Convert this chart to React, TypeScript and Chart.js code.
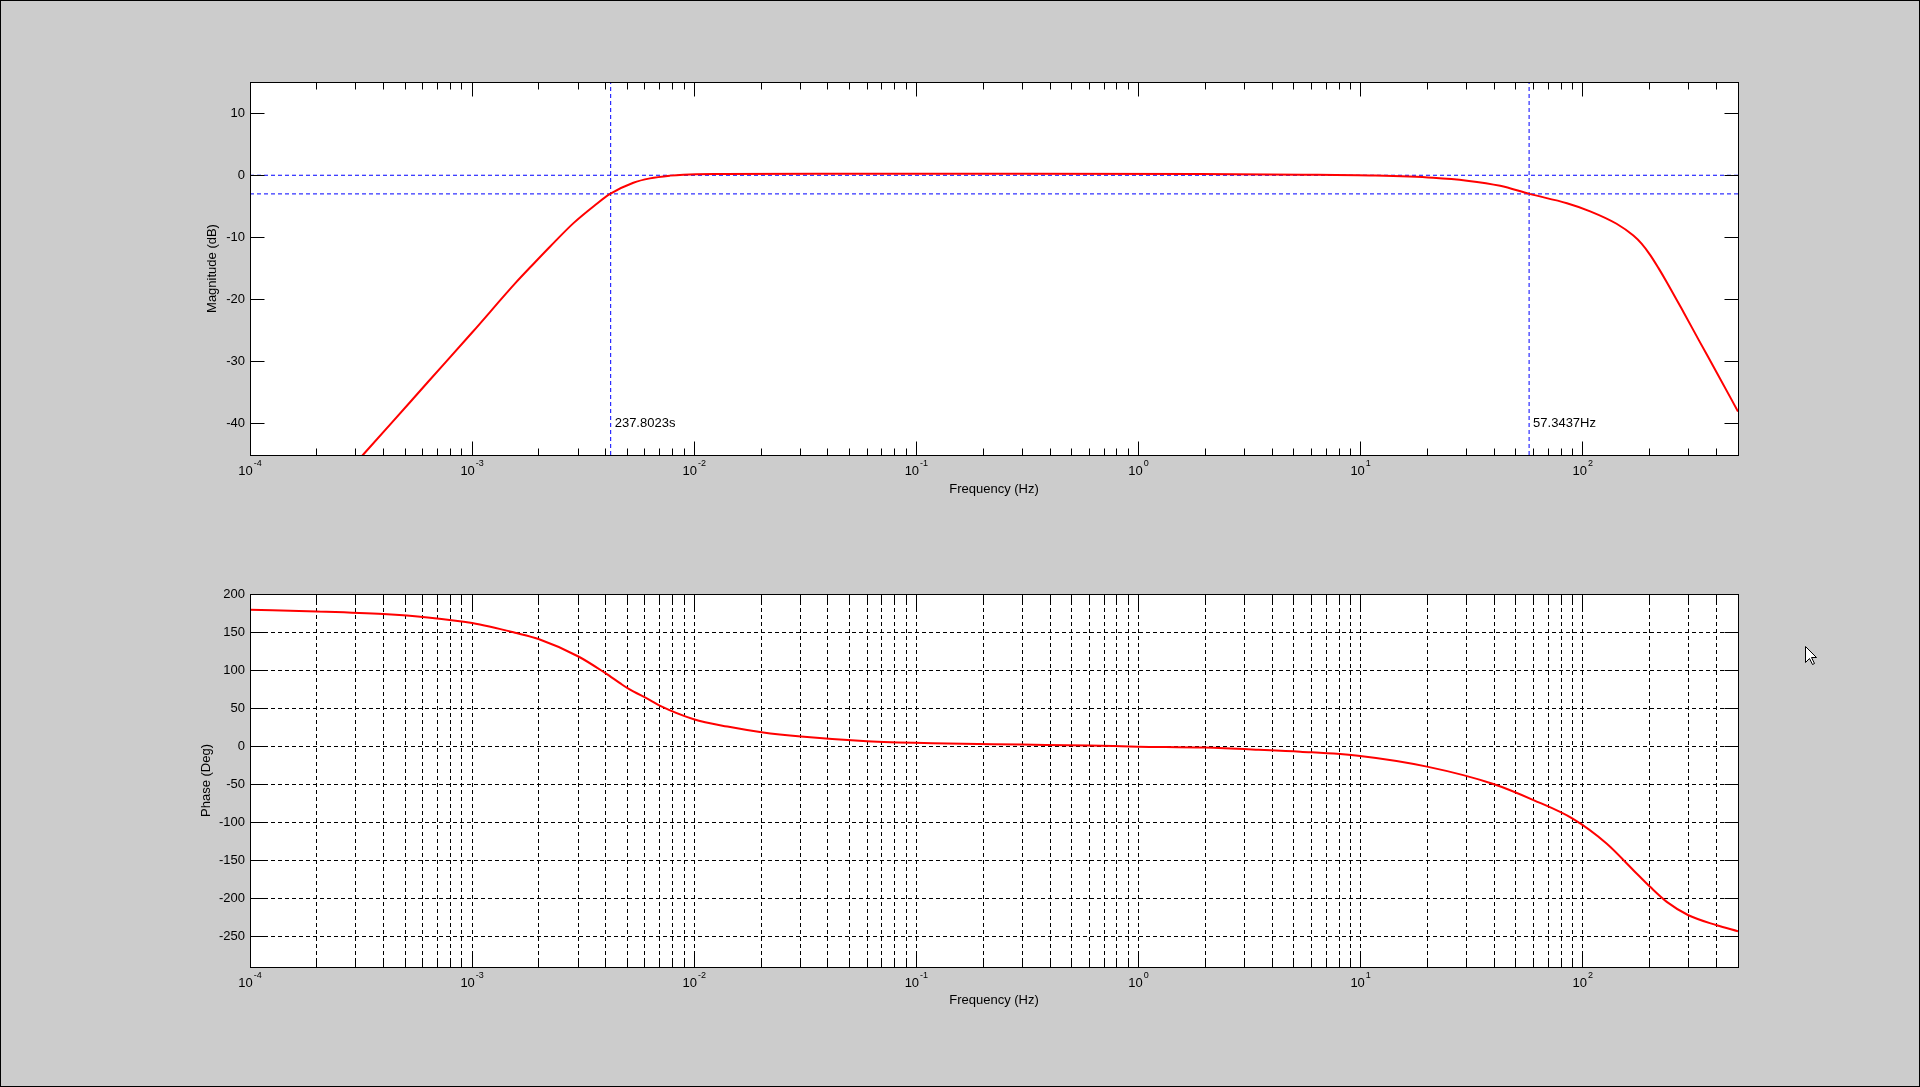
import React, { useEffect, useRef } from "react";
import { Chart, registerables } from "chart.js";

Chart.register(...registerables);

const FONT = '"Liberation Sans", Arial, Helvetica, sans-serif';

// ---------- data ----------
const freqMin = 1e-4;
const freqMax = 500;
const decadeExponents = [-4, -3, -2, -1, 0, 1, 2];
const minorMultipliers = [1, 2, 3, 4, 5, 6, 7, 8, 9];

const magFreq = [
  2.82e-4, 4.35e-4, 6.31e-4, 1.0e-3, 1.58e-3, 1.85e-3, 2.24e-3, 2.86e-3, 3.55e-3,
  4.18e-3, 5.32e-3, 6.32e-3, 7.78e-3, 8.93e-3, 1.31e-2, 5.0e-2, 0.316, 1.89, 5.51, 11.6,
  21.2, 30.1, 42.5, 57.5, 84.9, 108, 142, 169, 184, 201, 219, 239, 284, 334, 402, 500,
];
const magDb = [
  -47.3, -39.8, -33.3, -25.3, -17.2, -14.6, -11.5, -7.7, -4.9,
  -3.0, -1.2, -0.5, -0.06, 0.1, 0.2, 0.25, 0.25, 0.2, 0.1, -0.05,
  -0.4, -0.87, -1.7, -3.0, -4.5, -5.8, -7.8, -9.7, -11.0, -12.8, -14.9, -17.2, -22.0, -26.6, -31.8, -38.0,
];

const phaseFreq = [
  1e-4, 2.0e-4, 3.98e-4, 6.31e-4, 1e-3, 1.58e-3, 1.99e-3, 3.01e-3, 3.98e-3, 4.63e-3,
  5.01e-3, 6.32e-3, 7.03e-3, 9.95e-3, 1.41e-2, 2.01e-2, 3.02e-2, 6.0e-2, 0.118, 0.299,
  0.598, 0.995, 1.99, 3.47, 5.35, 9.95, 19.9, 39.6, 60.0, 90.8, 128, 169, 201, 239, 299, 401, 500,
];
const phaseDeg = [
  179.3, 177.1, 173.7, 169.2, 161.8, 148.7, 140.8, 117.9, 96, 82.9,
  76.3, 60.6, 53, 35.5, 25.8, 18.4, 12.7, 6.6, 4.0, 2.2,
  0.9, -0.5, -1.8, -4.5, -7.1, -12.8, -26.8, -49.6, -70.7, -95.7, -127.7, -162.8, -184.7, -204.5, -222, -235.1, -243,
];

const magRange = [-45, 15];
const phaseRange = [-290, 200];
const magTicks = [-40, -30, -20, -10, 0, 10];
const phaseTicks = [-250, -200, -150, -100, -50, 0, 50, 100, 150, 200];

const refLevels = [0, -3];
const cornerFreqs = [1 / 237.8023, 57.3437];
const cornerLabels = ["237.8023s", "57.3437Hz"];
const cornerLabelLevel = -40;

const xTitle = "Frequency (Hz)";
const magTitle = "Magnitude (dB)";
const phaseTitle = "Phase (Deg)";

// ---------- helpers ----------
function xTickValues(): number[] {
  const out: number[] = [];
  for (const e of decadeExponents) {
    for (const m of minorMultipliers) {
      const v = m * Math.pow(10, e);
      if (v >= freqMin * 0.9999 && v <= freqMax * 1.0001) out.push(v);
    }
  }
  return out;
}

const align = (p: number) => Math.round(p - 0.5) + 0.5;

const matlabAxes = {
  id: "matlabAxes",
  beforeDraw(chart: any) {
    const { ctx, chartArea: a } = chart;
    ctx.save();
    ctx.fillStyle = "#ffffff";
    ctx.fillRect(a.left, a.top, a.right - a.left, a.bottom - a.top);
    ctx.restore();
  },
  afterDraw(chart: any, _args: any, opts: any) {
    const { ctx, chartArea: a, scales } = chart;
    const xs = scales.x;
    const ys = scales.y;
    const L = align(a.left);
    const R = align(a.right);
    const T = align(a.top);
    const B = align(a.bottom);
    ctx.save();
    ctx.setLineDash([]);
    ctx.strokeStyle = "#000";
    ctx.lineWidth = 1;
    // inward ticks
    ctx.beginPath();
    for (const t of xs.ticks) {
      const v = t.value;
      const lg = Math.log10(v);
      const major = Math.abs(lg - Math.round(lg)) < 1e-6;
      const len = major ? 14 : 7;
      const px = align(xs.getPixelForValue(v));
      ctx.moveTo(px, B);
      ctx.lineTo(px, B - len);
      ctx.moveTo(px, T);
      ctx.lineTo(px, T + len);
    }
    for (const t of ys.ticks) {
      const py = align(ys.getPixelForValue(t.value));
      ctx.moveTo(L, py);
      ctx.lineTo(L + 14, py);
      ctx.moveTo(R, py);
      ctx.lineTo(R - 14, py);
    }
    ctx.stroke();
    // box
    ctx.strokeRect(L, T, R - L, B - T);

    // x decade labels with superscripts
    ctx.fillStyle = "#000";
    ctx.textBaseline = "middle";
    ctx.textAlign = "left";
    for (const e of decadeExponents) {
      const v = Math.pow(10, e);
      if (v < freqMin * 0.9999 || v > freqMax * 1.0001) continue;
      const px = xs.getPixelForValue(v);
      ctx.font = `13px ${FONT}`;
      const wb = ctx.measureText("10").width;
      ctx.font = `9px ${FONT}`;
      const sup = String(e);
      const ws = ctx.measureText(sup).width;
      const x0 = px - (wb + 1 + ws) / 2;
      ctx.font = `13px ${FONT}`;
      ctx.fillText("10", x0, a.bottom + 16.5);
      ctx.font = `9px ${FONT}`;
      ctx.fillText(sup, x0 + wb + 1, a.bottom + 8.5);
    }

    // axis titles
    ctx.font = `13px ${FONT}`;
    ctx.textAlign = "center";
    ctx.fillText(opts.xTitle, (a.left + a.right) / 2, a.bottom + opts.xTitleOffset);
    ctx.save();
    ctx.translate(a.left - opts.yTitleOffset, (a.top + a.bottom) / 2);
    ctx.rotate(-Math.PI / 2);
    ctx.fillText(opts.yTitle, 0, 0);
    ctx.restore();

    // annotation labels
    if (opts.labels) {
      ctx.textAlign = "left";
      for (const lb of opts.labels) {
        const px = xs.getPixelForValue(lb.x);
        const py = ys.getPixelForValue(lb.y);
        ctx.fillText(lb.text, px + 4, py);
      }
    }
    ctx.restore();
  },
};

function baseScales(yMin: number, yMax: number, yTicks: number[], gridOn: boolean, xHeight: number) {
  return {
    x: {
      type: "logarithmic",
      min: freqMin,
      max: freqMax,
      afterBuildTicks: (s: any) => {
        s.ticks = xTickValues().map((v) => ({ value: v }));
      },
      afterFit: (s: any) => {
        s.height = xHeight;
      },
      ticks: { display: false },
      grid: { display: gridOn, drawTicks: false, color: "#000", lineWidth: 1 },
      border: { display: false, dash: [4, 3] },
    },
    y: {
      type: "linear",
      min: yMin,
      max: yMax,
      afterBuildTicks: (s: any) => {
        s.ticks = yTicks.map((v) => ({ value: v }));
      },
      afterFit: (s: any) => {
        s.width = 100;
      },
      ticks: {
        color: "#000",
        font: { family: FONT, size: 13 },
        padding: 5,
        callback: (v: any) => String(v),
      },
      grid: { display: gridOn, drawTicks: false, color: "#000", lineWidth: 1 },
      border: { display: false, dash: [4, 3] },
    },
  };
}

export default function App() {
  const topRef = useRef<HTMLCanvasElement>(null);
  const botRef = useRef<HTMLCanvasElement>(null);

  useEffect(() => {
    document.body.style.margin = "0";
    const blue = (data: any[]) => ({
      data,
      borderColor: "#0000ff",
      borderWidth: 1,
      borderDash: [4, 3],
      pointRadius: 0,
      fill: false,
    });
    const topChart = new Chart(topRef.current as HTMLCanvasElement, {
      type: "line",
      data: {
        datasets: [
          {
            data: magFreq.map((f, i) => ({ x: f, y: magDb[i] })),
            borderColor: "#ff0000",
            borderWidth: 2,
            pointRadius: 0,
            fill: false,
            cubicInterpolationMode: "monotone",
          },
          ...refLevels.map((l) => blue([{ x: freqMin, y: l }, { x: freqMax, y: l }])),
          ...cornerFreqs.map((f) => blue([{ x: f, y: magRange[0] }, { x: f, y: magRange[1] }])),
        ],
      },
      options: {
        responsive: false,
        animation: false,
        events: [],
        layout: { padding: { top: 42, right: 52, bottom: 0, left: 0 } },
        plugins: {
          legend: { display: false },
          tooltip: { enabled: false },
          matlabAxes: {
            xTitle,
            yTitle: magTitle,
            xTitleOffset: 34,
            yTitleOffset: 37.5,
            labels: cornerFreqs.map((f, i) => ({ x: f, y: cornerLabelLevel, text: cornerLabels[i] })),
          },
        } as any,
        scales: baseScales(magRange[0], magRange[1], magTicks, false, 65) as any,
      },
      plugins: [matlabAxes as any],
    });

    const botChart = new Chart(botRef.current as HTMLCanvasElement, {
      type: "line",
      data: {
        datasets: [
          {
            data: phaseFreq.map((f, i) => ({ x: f, y: phaseDeg[i] })),
            borderColor: "#ff0000",
            borderWidth: 2,
            pointRadius: 0,
            fill: false,
            cubicInterpolationMode: "monotone",
          },
        ],
      },
      options: {
        responsive: false,
        animation: false,
        events: [],
        layout: { padding: { top: 44, right: 52, bottom: 0, left: 0 } },
        plugins: {
          legend: { display: false },
          tooltip: { enabled: false },
          matlabAxes: {
            xTitle,
            yTitle: phaseTitle,
            xTitleOffset: 33.5,
            yTitleOffset: 43.7,
          },
        } as any,
        scales: baseScales(phaseRange[0], phaseRange[1], phaseTicks, true, 63) as any,
      },
      plugins: [matlabAxes as any],
    });

    return () => {
      topChart.destroy();
      botChart.destroy();
    };
  }, []);

  return (
    <div
      style={{
        position: "fixed",
        left: 0,
        top: 0,
        width: 1920,
        height: 1087,
        boxSizing: "border-box",
        border: "1px solid #000",
        background: "#cccccc",
        overflow: "hidden",
      }}
    >
      <canvas
        ref={topRef}
        width={1640}
        height={480}
        style={{ position: "absolute", left: 149, top: 39, width: 1640, height: 480 }}
      />
      <canvas
        ref={botRef}
        width={1640}
        height={480}
        style={{ position: "absolute", left: 149, top: 549, width: 1640, height: 480 }}
      />
      <svg
        width={12}
        height={20}
        style={{ position: "absolute", left: 1804, top: 645 }}
      >
        <polygon
          points="0.5,0.5 0.5,16.5 4.5,12.5 7.5,18.5 9.5,17.5 6.5,11.5 11.5,11.5"
          fill="#ffffff"
          stroke="#000000"
          strokeWidth={1}
        />
      </svg>
    </div>
  );
}
